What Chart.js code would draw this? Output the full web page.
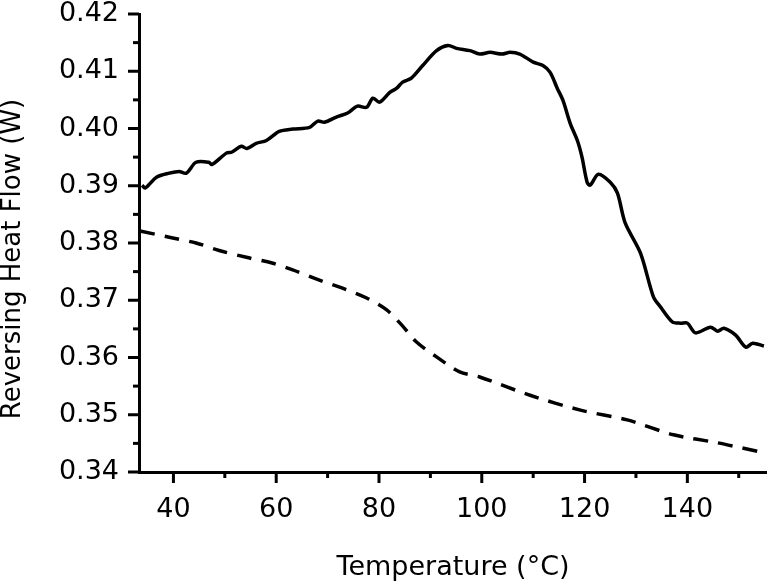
<!DOCTYPE html>
<html>
<head>
<meta charset="utf-8">
<script src="https://cdn.jsdelivr.net/npm/chart.js@4.4.1/dist/chart.umd.min.js"></script>
<style>
  body { margin: 0; background: #fff; }
  canvas { display: block; }
</style>
</head>
<body>
<canvas id="chart1" width="767" height="584"></canvas>
<script>
// CHART DATA
// -----------------------------
// solid trace (Temperature, W)
let solidTemp = [
  33.9, 34.5, 36.7, 39.2, 41.1, 42.5, 44.4, 46.9, 47.5, 50.3, 51.4, 53.2, 54.3,
  56.1, 58.1, 60.6, 63.2, 66.5, 68.1, 69.4, 71.7, 73.9, 75.8, 77.6, 78.8, 80.1,
  82.1, 83.4, 84.6, 86.3, 88.5, 91.2, 93.4, 95.1, 97.7, 99.6, 101.6, 103.9,
  105.5, 107.4, 110.0, 111.9, 113.3, 114.7, 115.8, 117.2, 118.6, 119.5, 120.5,
  121.1, 122.7, 125.0, 126.4, 127.9, 130.9, 133.4, 134.8, 137.1, 138.7, 140.0,
  141.6, 144.5, 145.9, 147.1, 149.4, 151.4, 152.7, 154.9,
];
let solidFlow = [
  0.3901, 0.3896, 0.3915, 0.3922, 0.3925, 0.3922, 0.3941, 0.3941, 0.3937,
  0.3957, 0.3959, 0.3969, 0.3965, 0.3974, 0.3979, 0.3995, 0.3999, 0.4002,
  0.4013, 0.4011, 0.4020, 0.4027, 0.4039, 0.4037, 0.4053, 0.4046, 0.4063,
  0.4070, 0.4081, 0.4088, 0.4110, 0.4136, 0.4145, 0.4140, 0.4136, 0.4130,
  0.4133, 0.4130, 0.4133, 0.4130, 0.4116, 0.4110, 0.4098, 0.4070, 0.4049,
  0.4009, 0.3979, 0.3950, 0.3906, 0.3901, 0.3920, 0.3906, 0.3887, 0.3835,
  0.3782, 0.3706, 0.3688, 0.3662, 0.3660, 0.3660, 0.3643, 0.3653, 0.3646,
  0.3651, 0.3639, 0.3618, 0.3625, 0.3620,
];

// dashed trace
let dashTemp = [
  33.5, 39.2, 44.4, 48.9, 54.2, 59.2, 63.2, 68.4, 72.9, 77.6, 81.5, 84.4, 87.3,
  91.2, 95.7, 99.6, 109.4, 119.2, 128.3, 137.3, 145.9, 154.3, 155.5,
];
let dashFlow = [
  0.3821, 0.3810, 0.3800, 0.3787, 0.3775, 0.3765, 0.3753, 0.3735, 0.3721,
  0.3704, 0.3683, 0.3657, 0.3627, 0.3601, 0.3575, 0.3566, 0.3534, 0.3508,
  0.3491, 0.3465, 0.3451, 0.3435, 0.3434,
];

// ticks
let xTicks = [40, 60, 80, 100, 120, 140];
let xMinorTicks = [50, 70, 90, 110, 130, 150];
let yTicks = [0.34, 0.35, 0.36, 0.37, 0.38, 0.39, 0.40, 0.41, 0.42];
let yMinorTicks = [0.345, 0.355, 0.365, 0.375, 0.385, 0.395, 0.405, 0.415];

let yTitle = 'Reversing Heat Flow (W)';

const font = 'DejaVu Sans, sans-serif';

// tick marks pointing outward, major + minor, and the y title
let tickMarks = {
  id: 'tickMarks',
  afterDraw(chart) {
    const ctx = chart.ctx;
    const xs = chart.scales.x;
    const ys = chart.scales.y;
    const area = chart.chartArea;
    ctx.save();
    ctx.strokeStyle = '#000';
    ctx.lineWidth = 3;
    xTicks.forEach(v => {
      const px = xs.getPixelForValue(v);
      ctx.beginPath(); ctx.moveTo(px, area.bottom); ctx.lineTo(px, area.bottom + 11); ctx.stroke();
    });
    xMinorTicks.forEach(v => {
      const px = xs.getPixelForValue(v);
      ctx.beginPath(); ctx.moveTo(px, area.bottom); ctx.lineTo(px, area.bottom + 6); ctx.stroke();
    });
    yTicks.forEach(v => {
      const py = ys.getPixelForValue(v);
      ctx.beginPath(); ctx.moveTo(area.left, py); ctx.lineTo(area.left - 11, py); ctx.stroke();
    });
    yMinorTicks.forEach(v => {
      const py = ys.getPixelForValue(v);
      ctx.beginPath(); ctx.moveTo(area.left, py); ctx.lineTo(area.left - 6, py); ctx.stroke();
    });

    // y title, sits a bit below the axis middle like the original
    ctx.translate(13, 259);
    ctx.rotate(-Math.PI / 2);
    ctx.fillStyle = '#000';
    ctx.font = '26px ' + font;
    ctx.textAlign = 'center';
    ctx.textBaseline = 'middle';
    ctx.fillText(yTitle, 0, 0);
    ctx.restore();
  }
};

let chart1Data = {
  type: 'line',
  data: {
    datasets: [
      {
        data: solidTemp.map((t, i) => ({ x: t, y: solidFlow[i] })),
        borderColor: '#000',
        borderWidth: 3.5,
        pointRadius: 0,
        tension: 0.3,
      },
      {
        data: dashTemp.map((t, i) => ({ x: t, y: dashFlow[i] })),
        borderColor: '#000',
        borderWidth: 3.5,
        borderDash: [15, 10],
        pointRadius: 0,
        tension: 0.3,
      },
    ],
  },
  options: {
    responsive: false,
    animation: false,
    layout: {
      padding: { top: 14, right: 0, left: 0, bottom: 0 },
    },
    plugins: {
      legend: { display: false },
      tooltip: { enabled: false },
    },
    scales: {
      x: {
        type: 'linear',
        min: 33.3,
        max: 155.5,
        afterFit: s => { s.height = 112; s.paddingLeft = 0; s.paddingRight = 0; },
        afterBuildTicks: s => { s.ticks = xTicks.map(v => ({ value: v })); },
        grid: { display: false, drawTicks: false },
        border: { display: true, color: '#000', width: 3 },
        ticks: {
          color: '#000',
          padding: 22,
          maxRotation: 0,
          font: { family: font, size: 27 },
        },
        title: {
          display: true,
          text: 'Temperature (°C)',
          color: '#000',
          padding: { top: 6, bottom: 0 },
          font: { family: font, size: 27 },
        },
      },
      y: {
        min: 0.34,
        max: 0.42,
        afterFit: s => { s.width = 139; s.paddingTop = 0; s.paddingBottom = 0; },
        afterBuildTicks: s => { s.ticks = yTicks.map(v => ({ value: v })); },
        grid: { display: false, drawTicks: false },
        border: { display: true, color: '#000', width: 3 },
        ticks: {
          color: '#000',
          padding: 20,
          font: { family: font, size: 27 },
          callback: v => v.toFixed(2),
        },
        title: { display: false },
      },
    },
  },
  plugins: [tickMarks],
};

// RENDER CHART
// -----------------------------
new Chart(document.getElementById('chart1'), chart1Data);
</script>
</body>
</html>
